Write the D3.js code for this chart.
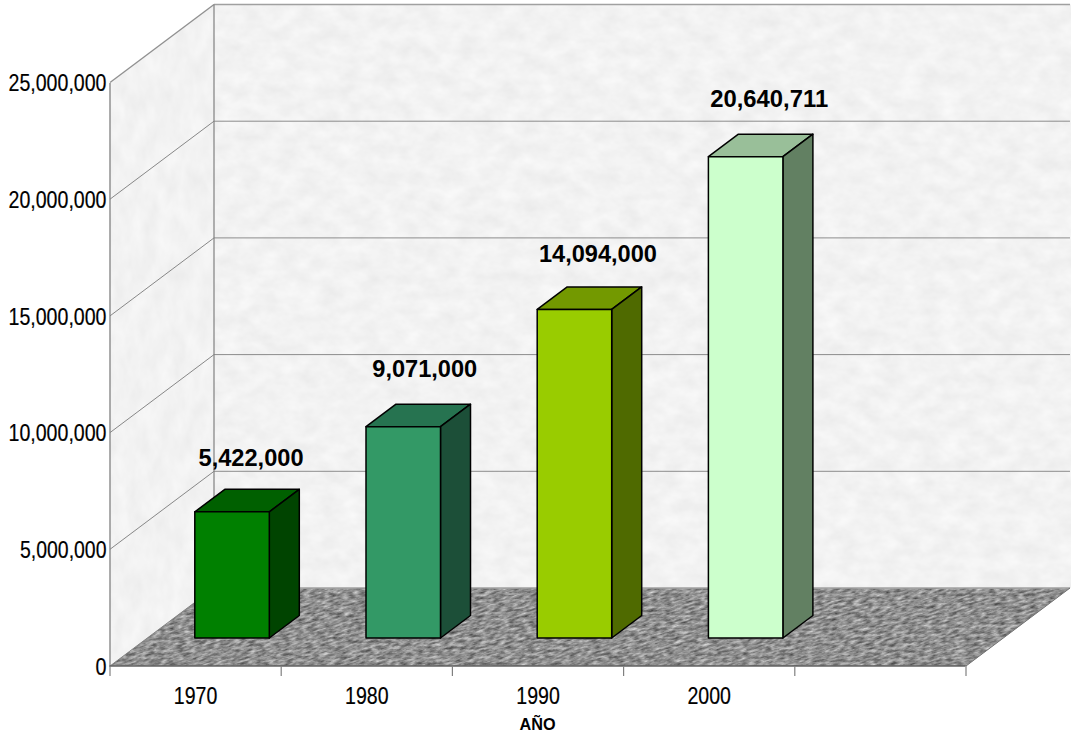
<!DOCTYPE html>
<html><head><meta charset="utf-8">
<script src="https://cdn.jsdelivr.net/npm/d3@7/dist/d3.min.js"></script>
<style>html,body{margin:0;padding:0;background:#fff}svg{display:block}text{font-family:"Liberation Sans",Arial,sans-serif;fill:#000}</style>
</head><body><script>
const categories = ["1970","1980","1990","2000",""];
const values = [5422000,9071000,14094000,20640711];
const valueLabels = ["5,422,000","9,071,000","14,094,000","20,640,711"];
const labelNudgeX = [0,2.5,4.5,4.5];
const labelNudgeY = [-46,-50,-47,-50];
const yTicks = [0,5000000,10000000,15000000,20000000,25000000];
const frontColors = ["#008000","#339966","#99CC00","#CCFFCC"];
const topColors = ["#006000","#267350","#739900","#99BF99"];
const sideColors = ["#004400","#1C4F38","#4F6A00","#628062"];
const xTitle = "AÑO";

const W=1073,H=733;
const x0=110,x1=966,yB=666,yT=82.5, depthX=104,depthY=78;
const svg=d3.select("body").append("svg").attr("width",W).attr("height",H);
const x=d3.scaleBand().domain(categories.map((c,i)=>i)).range([x0,x1]);
const y=d3.scaleLinear().domain([0,25000000]).range([yB,yT]);
const pts=a=>a.map(p=>p.join(",")).join(" ");

const defs=svg.append("defs");
function tex(id,freq,oct,slope,inter){
  const f=defs.append("filter").attr("id",id).attr("filterUnits","userSpaceOnUse")
    .attr("x",-200).attr("y",0).attr("width",W+800).attr("height",H).attr("color-interpolation-filters","sRGB");
  f.append("feTurbulence").attr("type","fractalNoise").attr("baseFrequency",freq).attr("numOctaves",oct).attr("seed",7).attr("result","n");
  f.append("feColorMatrix").attr("in","n").attr("type","matrix")
    .attr("values",`${slope} 0 0 0 ${inter} ${slope} 0 0 0 ${inter} ${slope} 0 0 0 ${inter} 0 0 0 0 1`).attr("result","g");
  f.append("feComposite").attr("in","g").attr("in2","SourceAlpha").attr("operator","in");
}
tex("wallTex","0.05 0.07",3,0.07,0.915);
tex("sideTex","0.07 0.035",3,0.06,0.92);
tex("floorTex","0.16 0.32",3,0.72,0.2);

const bottomBack=y(0)-depthY, topBack=y(25000000)-depthY;
svg.append("polygon").attr("points",pts([[x0+depthX,topBack],[x1+depthX+1,topBack],[x1+depthX+1,bottomBack],[x0+depthX,bottomBack]])).attr("fill","#f2f2f2").attr("filter","url(#wallTex)");
svg.append("polygon").attr("points",pts([[x0,y(25000000)],[x0+depthX,topBack],[x0+depthX,bottomBack],[x0,yB]])).attr("fill","#f2f2f2").attr("filter","url(#sideTex)");
const k=-depthX/depthY;
svg.append("rect").attr("x",x0).attr("y",bottomBack).attr("width",x1-x0).attr("height",depthY)
  .attr("transform",`matrix(1,0,${k},1,${-k*yB},0)`).attr("fill","#909090").attr("filter","url(#floorTex)");

const grid=svg.append("g");
yTicks.forEach(t=>{
  const yy=y(t);
  grid.append("line").attr("x1",x0).attr("y1",yy).attr("x2",x0+depthX).attr("y2",yy-depthY).attr("stroke",t===25000000?"#909090":"#7a7a7a").attr("stroke-width",t===25000000?1.3:0.9);
  grid.append("line").attr("x1",x0+depthX).attr("y1",yy-depthY).attr("x2",x1+depthX).attr("y2",yy-depthY).attr("stroke",t===0||t===25000000?"#a0a0a0":"#8c8c8c").attr("stroke-width",t===0||t===25000000?1.4:1);
});
grid.append("line").attr("x1",x0+depthX).attr("y1",topBack).attr("x2",x0+depthX).attr("y2",bottomBack).attr("stroke","#808080").attr("stroke-width",1.2);
grid.append("line").attr("x1",x1).attr("y1",yB).attr("x2",x1+depthX).attr("y2",bottomBack).attr("stroke","#707070").attr("stroke-width",1);

const yAxis=svg.append("g").attr("transform",`translate(${x0-0.5},0)`).call(d3.axisLeft(y).tickValues(yTicks).tickSize(0).tickPadding(3).tickFormat(d3.format(",")));
yAxis.select(".domain").attr("stroke","#808080").attr("stroke-width",1.3);
yAxis.selectAll("text").style("font-size","24px").style("stroke","#000").style("stroke-width","0.2px").attr("dy","0.34em").attr("textLength",function(d){return d===0?11:(d>=10000000?98:86.5);}).attr("lengthAdjust","spacingAndGlyphs");

const xAxis=svg.append("g").attr("transform",`translate(-0.5,${yB})`).call(d3.axisBottom(d3.scaleLinear().domain([0,5]).range([x0,x1])).ticks(5).tickSize(10).tickFormat(""));
xAxis.select(".domain").attr("stroke","#606060").attr("stroke-width",1.3).attr("d",`M${x0},0H${x1}`);
xAxis.selectAll("line").attr("stroke","#808080").attr("stroke-width",1.2);

svg.append("g").selectAll("text").data(categories.filter(c=>c)).join("text")
  .attr("x",(d,i)=>x(i)+x.bandwidth()/2).attr("y",704).attr("text-anchor","middle")
  .style("font-size","24px").style("stroke","#000").style("stroke-width","0.2px").attr("textLength",43.5).attr("lengthAdjust","spacingAndGlyphs").text(d=>d);
svg.append("text").attr("x",537.5).attr("y",730).attr("text-anchor","middle").style("font-size","16px").style("font-weight","bold")
  .attr("textLength",36).attr("lengthAdjust","spacingAndGlyphs").text(xTitle);

const barW=74.5, bdx=30, bdy=22.5, offX=37, offY=28;
const bars=svg.append("g").attr("stroke","#000").attr("stroke-width",1.5).attr("stroke-linejoin","round");
values.forEach((v,i)=>{
  const l=x(i)+x.bandwidth()/2-37.5+offX-0.3, r=l+barW, b=y(0)-offY, t=y(v)-offY+0.4;
  bars.append("polygon").attr("points",pts([[l,t],[l+bdx,t-bdy],[r+bdx,t-bdy],[r,t]])).attr("fill",topColors[i]);
  bars.append("polygon").attr("points",pts([[r,t],[r+bdx,t-bdy],[r+bdx,b-bdy],[r,b]])).attr("fill",sideColors[i]);
  bars.append("rect").attr("x",l).attr("y",t).attr("width",barW).attr("height",b-t).attr("fill",frontColors[i]);
  svg.append("text").attr("x",l+barW/2+19+labelNudgeX[i]).attr("y",t+labelNudgeY[i]).attr("text-anchor","middle")
    .style("font-size","24px").style("font-weight","bold").attr("textLength",i<2?105:118).attr("lengthAdjust","spacingAndGlyphs").text(valueLabels[i]);
});
</script></body></html>
